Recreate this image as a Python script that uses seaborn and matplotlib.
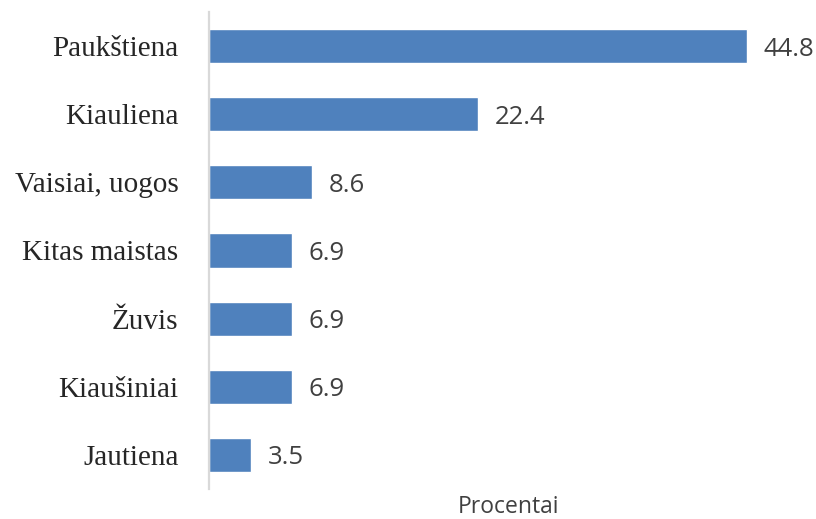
import matplotlib
matplotlib.use('Agg')
import matplotlib.pyplot as plt
import seaborn as sns
import pandas as pd

kategorijos = ['Paukštiena', 'Kiauliena', 'Vaisiai, uogos', 'Kitas maistas', 'Žuvis', 'Kiaušiniai', 'Jautiena']
procentai = [44.8, 22.4, 8.6, 6.9, 6.9, 6.9, 3.5]

df = pd.DataFrame({'Kategorija': kategorijos, 'Procentai': procentai})

sns.set_style('white')

fig = plt.figure(figsize=(8.16, 5.19), dpi=100)
ax = fig.add_axes([209 / 816, 30 / 519, 600 / 816, 477 / 519])

sns.barplot(data=df, y='Kategorija', x='Procentai', orient='h', color='#4F81BD',
            width=0.5, saturation=1, ax=ax)

for i, v in enumerate(procentai):
    ax.text(v + 1.4, i, f'{v:.1f}', va='center_baseline', ha='left', fontsize=18.5,
            family='Open Sans', color='#404040')

ax.set_xlim(0, 50)
ax.set_ylim(6.5, -0.5)
ax.set_xticks([])
ax.set_ylabel('')
ax.set_xlabel('Procentai', family='Open Sans', fontsize=16.5, color='#404040')
ax.xaxis.set_label_coords(0.5, -0.051, transform=ax.transAxes)
ax.xaxis.label.set_va('baseline')

for lbl in ax.get_yticklabels():
    lbl.set_family('Liberation Serif')
    lbl.set_fontsize(21)
    lbl.set_color('#262626')
ax.tick_params(axis='y', length=0, pad=22)

for s in ['top', 'right', 'bottom']:
    ax.spines[s].set_visible(False)
ax.spines['left'].set_color('#d9d9d9')
ax.spines['left'].set_linewidth(1.6)

fig.savefig('out.png', dpi=100)
